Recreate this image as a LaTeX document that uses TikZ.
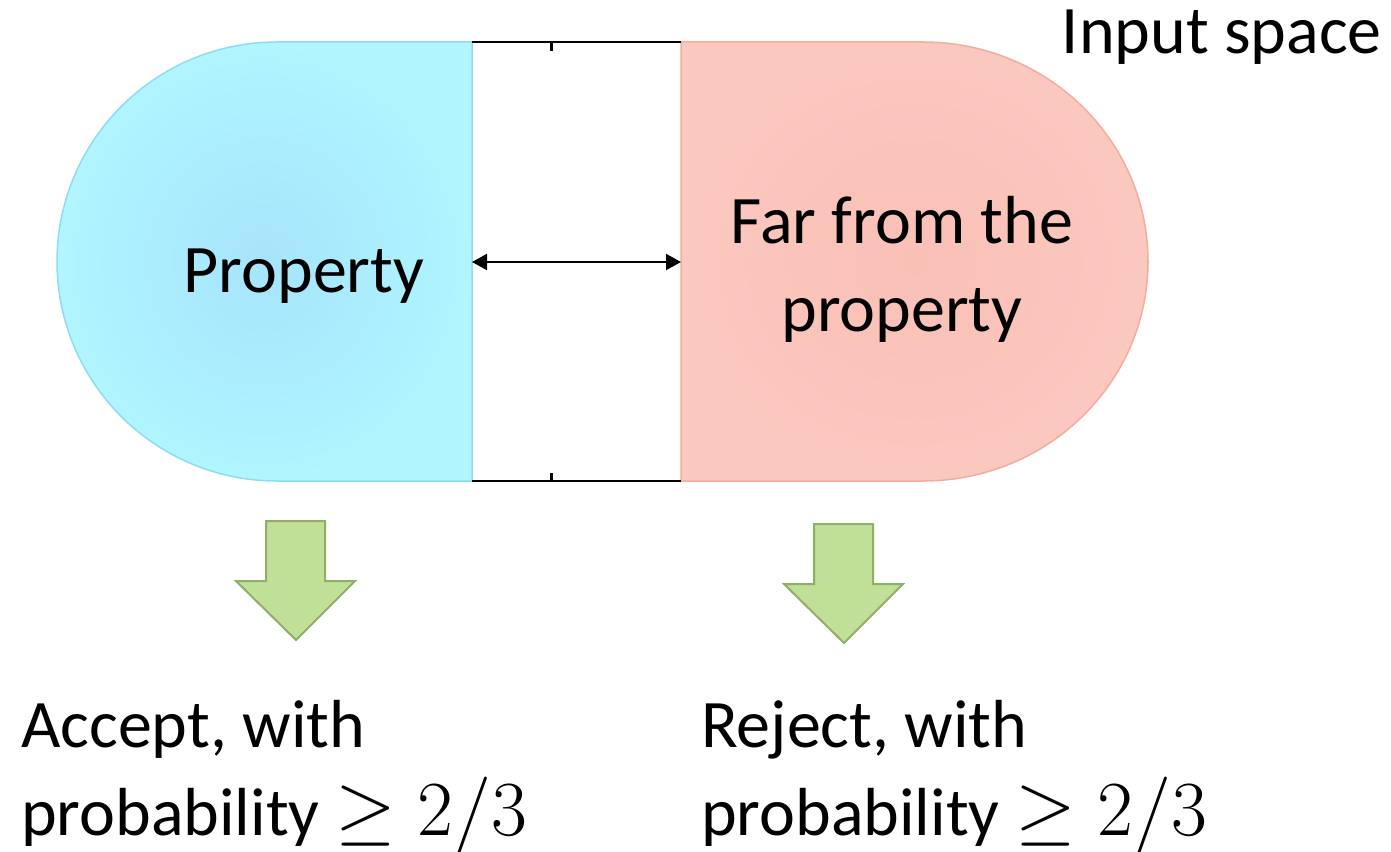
\documentclass[tikz,border=0pt]{standalone}
\usepackage{fix-cm}
\usepackage[no-math]{fontspec}
\setmainfont{Carlito}
\usetikzlibrary{arrows.meta}
\definecolor{blueIn}{HTML}{A6E4FB}
\definecolor{blueOut}{HTML}{B0F5FF}
\definecolor{blueEdge}{HTML}{8EDCF4}
\definecolor{redIn}{HTML}{F9C0B6}
\definecolor{redOut}{HTML}{FBC8BF}
\definecolor{redEdge}{HTML}{F4AC9E}
\definecolor{greenFill}{HTML}{BFE096}
\definecolor{greenEdge}{HTML}{8DAF66}
\newcommand{\bigmath}[1]{{\fontsize{78}{88}\selectfont$#1$}}
\tikzset{
  bigtext/.style={font=\fontsize{68}{88}\selectfont, inner sep=0pt},
  greenarrow/.style={fill=greenFill, draw=greenEdge, line width=2pt, line join=miter},
  gapline/.style={draw=black, line width=2.2pt},
  ticklen/.style={draw=black, line width=3pt},
}
\begin{document}
\begin{tikzpicture}[x=1pt,y=-1pt]
\useasboundingbox (0,0) rectangle (1391,851);
% blue region
\path[draw=blueEdge, line width=1.5pt, inner color=blueIn, outer color=blueOut]
  (472,42) -- (277,42) arc[start angle=270, end angle=90, x radius=220, y radius=219.5]
  -- (472,481) -- cycle;
% red region
\path[draw=redEdge, line width=1.5pt, inner color=redIn, outer color=redOut]
  (681,42) -- (923,42) arc[start angle=270, end angle=450, x radius=225, y radius=219.5]
  -- (681,481) -- cycle;
% gap lines
\coordinate (tl) at (472,42);
\coordinate (tr) at (681,42);
\coordinate (bl) at (472,481);
\coordinate (br) at (681,481);
\coordinate (tt) at (551,42);
\coordinate (tt2) at (551,51);
\coordinate (bt) at (551,481);
\coordinate (bt2) at (551,473);
\draw[gapline] (tl) -- (tr);
\draw[gapline] (bl) -- (br);
\draw[ticklen] (tt) -- (tt2);
\draw[ticklen] (bt) -- (bt2);
% double arrow
\coordinate (al) at (472,262);
\coordinate (ar) at (681,262);
\draw[line width=2pt, {Triangle[length=15pt,width=16pt]}-{Triangle[length=15pt,width=16pt]}] (al) -- (ar);
% green arrows
\draw[greenarrow] (266,521) -- (325,521) -- (325,581) -- (355,581) -- (296,640) -- (236,581) -- (266,581) -- cycle;
\draw[greenarrow] (814,524) -- (873,524) -- (873,584) -- (903,584) -- (844,643) -- (784,584) -- (814,584) -- cycle;
% texts
\node[bigtext, anchor=base] (prop) at (304,292) {Property};
\node[bigtext, anchor=base, align=center] (far) at (902,331) {Far from the\\property};
\node[bigtext, anchor=base east] (input) at (1382,54) {Input space};
\node[bigtext, anchor=base west, align=left] (acc) at (21,835) {Accept, with\\probability \bigmath{\geq 2/3}};
\node[bigtext, anchor=base west, align=left] (rej) at (701,835) {Reject, with\\probability \bigmath{\geq 2/3}};
\end{tikzpicture}
\end{document}
